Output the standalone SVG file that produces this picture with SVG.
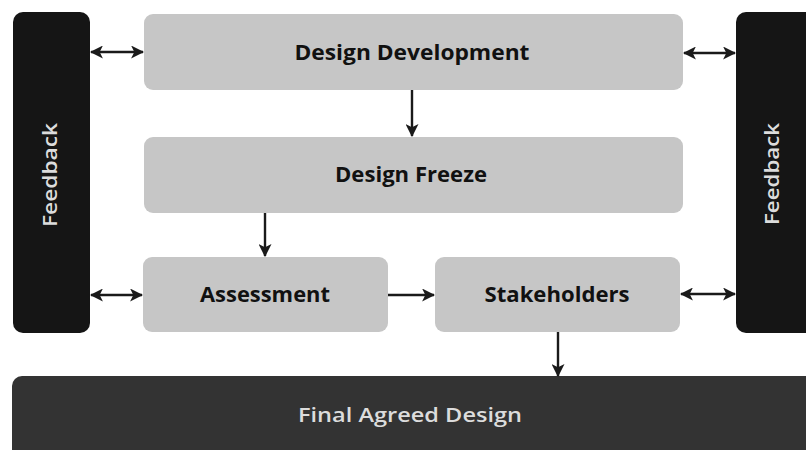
<svg xmlns="http://www.w3.org/2000/svg" width="806" height="450" viewBox="0 0 806 450">
<style>
.box{fill:#c6c6c6}
.dark{fill:#151515}
.final{fill:#333333}
.lbl{font-family:"Open Sans","Liberation Sans",sans-serif;font-weight:700;font-size:21px;fill:#111;text-anchor:middle}
.lt{font-family:"Open Sans","Liberation Sans",sans-serif;font-weight:600;font-size:19px;fill:#dcdcdc;text-anchor:middle}
.con{stroke:#1a1a1a;stroke-width:2.4;fill:none}
</style>
<defs>
<marker id="ah" viewBox="0 0 12 12" refX="11" refY="6" markerWidth="13" markerHeight="13" markerUnits="userSpaceOnUse" orient="auto-start-reverse">
<path d="M0,0 L12,6 L0,12 L3,6 Z" fill="#1a1a1a"/>
</marker>
</defs>
<rect width="806" height="450" fill="#ffffff"/>
<g id="feedback-left">
<rect class="dark" x="13" y="12" width="77" height="321" rx="10"/>
<text class="lt" transform="translate(57,175) rotate(-90)" textLength="104" lengthAdjust="spacingAndGlyphs">Feedback</text>
</g>
<g id="feedback-right">
<rect class="dark" x="736" y="12" width="80" height="321" rx="10"/>
<text class="lt" transform="translate(779,174) rotate(-90)" textLength="102" lengthAdjust="spacingAndGlyphs">Feedback</text>
</g>
<g id="design-development">
<rect class="box" x="144" y="14" width="539" height="76" rx="9"/>
<text class="lbl" x="412" y="60" textLength="235" lengthAdjust="spacingAndGlyphs">Design Development</text>
</g>
<g id="design-freeze">
<rect class="box" x="144" y="137" width="539" height="76" rx="9"/>
<text class="lbl" x="411" y="182" textLength="152" lengthAdjust="spacingAndGlyphs">Design Freeze</text>
</g>
<g id="assessment">
<rect class="box" x="143" y="257" width="245" height="75" rx="9"/>
<text class="lbl" x="265" y="302" textLength="130" lengthAdjust="spacingAndGlyphs">Assessment</text>
</g>
<g id="stakeholders">
<rect class="box" x="435" y="257" width="245" height="75" rx="9"/>
<text class="lbl" x="557" y="302" textLength="145" lengthAdjust="spacingAndGlyphs">Stakeholders</text>
</g>
<g id="final-agreed-design">
<rect class="final" x="12" y="376" width="804" height="84" rx="10"/>
<text class="lt" x="410" y="422" textLength="224" lengthAdjust="spacingAndGlyphs">Final Agreed Design</text>
</g>
<g id="connectors">
<line class="con" x1="412" y1="90" x2="412" y2="136" marker-end="url(#ah)"/>
<line class="con" x1="265" y1="213" x2="265" y2="256" marker-end="url(#ah)"/>
<line class="con" x1="558" y1="332" x2="558" y2="376" marker-end="url(#ah)"/>
<line class="con" x1="388" y1="295" x2="434" y2="295" marker-end="url(#ah)"/>
<line class="con" x1="91" y1="52" x2="143" y2="52" marker-start="url(#ah)" marker-end="url(#ah)"/>
<line class="con" x1="684" y1="53" x2="735" y2="53" marker-start="url(#ah)" marker-end="url(#ah)"/>
<line class="con" x1="91" y1="295" x2="142" y2="295" marker-start="url(#ah)" marker-end="url(#ah)"/>
<line class="con" x1="681" y1="294" x2="735" y2="294" marker-start="url(#ah)" marker-end="url(#ah)"/>
</g>
</svg>
